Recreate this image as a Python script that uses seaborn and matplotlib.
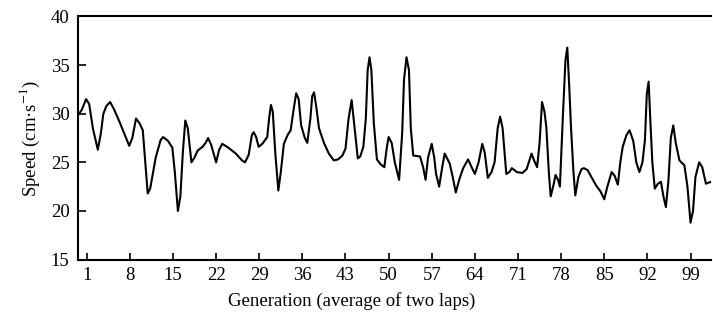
import matplotlib
matplotlib.use("Agg")
import matplotlib.pyplot as plt
import seaborn as sns
import pandas as pd

generation = [-0.46, 0.2, 0.9, 1.4, 2.0, 2.8, 3.3, 3.7, 4.2, 4.8, 5.4, 6.3, 7.2, 7.9,
              8.4, 9.0, 9.6, 10.1, 10.5, 10.9, 11.3, 12.2, 13.0, 13.4, 14.2, 14.9,
              15.3, 15.8, 16.2, 16.6, 17.0, 17.4, 18.0, 18.5, 19.0, 19.8, 20.3, 20.7,
              21.2, 22.0, 22.5, 23.0, 24.0, 25.2, 26.2, 26.7, 27.3, 27.8, 28.1, 28.5,
              28.9, 29.5, 30.3, 30.6, 30.9, 31.2, 31.6, 32.1, 32.5, 33.0, 33.6, 34.1,
              34.6, 35.0, 35.4, 35.8, 36.4, 36.8, 37.3, 37.6, 37.9, 38.3, 38.7, 39.5,
              40.3, 41.1, 41.8, 42.5, 43.0, 43.5, 44.0, 44.4, 45.0, 45.4, 45.9, 46.3,
              46.6, 46.9, 47.2, 47.6, 48.1, 48.7, 49.3, 49.7, 50.0, 50.5, 51.0, 51.7,
              52.2, 52.5, 52.9, 53.3, 53.6, 54.0, 55.1, 55.6, 56.0, 56.4, 57.0, 57.4,
              57.7, 58.2, 58.7, 59.1, 59.9, 60.4, 60.9, 61.5, 62.1, 62.9, 63.4, 64.0,
              64.6, 65.2, 65.6, 66.1, 66.7, 67.2, 67.7, 68.1, 68.5, 69.1, 69.6, 70.0,
              70.8, 71.7, 72.4, 73.2, 73.6, 74.1, 74.5, 74.9, 75.3, 75.6, 76.0, 76.3,
              76.7, 77.1, 77.5, 77.8, 78.3, 78.7, 79.0, 79.3, 79.6, 80.0, 80.3, 80.8,
              81.3, 81.7, 82.3, 82.9, 83.7, 84.4, 85.0, 85.5, 86.2, 86.7, 87.2, 87.6,
              88.0, 88.6, 89.1, 89.7, 90.2, 90.7, 91.2, 91.6, 91.9, 92.2, 92.5, 92.8,
              93.2, 93.7, 94.2, 94.6, 95.0, 95.4, 95.8, 96.2, 96.6, 97.2, 98.0, 98.5,
              99.0, 99.4, 99.8, 100.4, 100.9, 101.5, 102.3]
speed = [29.8, 30.4, 31.5, 31.0, 28.5, 26.3, 28.0, 30.0, 30.8, 31.2, 30.5, 29.2, 27.8, 26.7,
         27.5, 29.5, 29.0, 28.3, 25.0, 21.8, 22.3, 25.5, 27.3, 27.6, 27.2, 26.5,
         24.0, 20.0, 21.5, 26.0, 29.3, 28.5, 25.0, 25.5, 26.2, 26.6, 27.0, 27.5,
         26.8, 25.0, 26.3, 26.9, 26.5, 25.9, 25.2, 25.0, 25.8, 27.8, 28.1, 27.6,
         26.6, 26.9, 27.6, 29.5, 30.9, 30.2, 26.0, 22.1, 24.0, 26.9, 27.8, 28.3,
         30.5, 32.1, 31.5, 28.8, 27.5, 27.0, 29.5, 31.8, 32.2, 30.5, 28.5, 27.0,
         25.9, 25.2, 25.3, 25.7, 26.4, 29.5, 31.4, 29.0, 25.4, 25.6, 26.6, 29.5,
         34.5, 35.8, 34.5, 29.0, 25.3, 24.8, 24.5, 26.5, 27.6, 27.0, 25.0, 23.2,
         28.0, 33.5, 35.8, 34.5, 28.5, 25.7, 25.6, 24.5, 23.2, 25.5, 26.9, 25.5,
         23.8, 22.5, 24.5, 25.9, 24.9, 23.5, 21.9, 23.3, 24.4, 25.3, 24.6, 23.8,
         25.0, 26.9, 26.0, 23.4, 24.0, 25.0, 28.5, 29.7, 28.5, 23.8, 24.0, 24.4,
         24.0, 23.9, 24.3, 25.9, 25.2, 24.5, 27.0, 31.2, 30.2, 28.6, 24.0, 21.5,
         22.5, 23.7, 23.2, 22.5, 30.0, 35.5, 36.8, 33.0, 28.6, 24.0, 21.6, 23.5,
         24.3, 24.4, 24.2, 23.5, 22.6, 22.0, 21.2, 22.5, 24.0, 23.6, 22.7, 25.0,
         26.6, 27.8, 28.3, 27.2, 25.0, 24.0, 25.0, 27.3, 32.0, 33.3, 29.0, 25.0,
         22.3, 22.8, 23.0, 21.5, 20.4, 23.0, 27.5, 28.8, 27.0, 25.2, 24.7, 22.5,
         18.8, 20.0, 23.5, 25.0, 24.5, 22.8, 23.0]

x_ticks = [1, 8, 15, 22, 29, 36, 43, 50, 57, 64, 71, 78, 85, 92, 99]
y_ticks = [15, 20, 25, 30, 35, 40]

sns.set_style("ticks")
plt.rcParams["font.family"] = ["Liberation Serif", "DejaVu Serif"]
plt.rcParams["mathtext.fontset"] = "stix"
plt.rcParams["text.color"] = "black"
plt.rcParams["axes.labelcolor"] = "black"

df = pd.DataFrame({"Generation": generation, "Speed": speed})

fig = plt.figure(figsize=(7.13, 3.29), dpi=100)
ax = fig.add_axes([0.109, 0.211, 0.888, 0.739])
sns.lineplot(data=df, x="Generation", y="Speed", color="black", linewidth=1.5,
             ax=ax, sort=False)

ax.set_xlim(-0.46, 102.3)
ax.set_ylim(15, 40)
ax.set_xticks(x_ticks)
ax.set_yticks(y_ticks)
ax.tick_params(axis="both", direction="in", labelsize=13.5, colors="black", width=1.2)
ax.tick_params(axis="y", length=6, pad=6)
ax.tick_params(axis="x", length=5, pad=5)
for s in ["left", "bottom", "top"]:
    ax.spines[s].set_linewidth(1.5)
    ax.spines[s].set_color("black")
ax.spines["right"].set_visible(False)

ax.set_xlabel("Generation (average of two laps)", fontsize=13.5, labelpad=2)
ax.xaxis.set_label_coords(0.433, -0.135)
ax.set_ylabel("Speed (cm·s$^{-1}$)", fontsize=13.5, labelpad=6)

fig.savefig("out.png", dpi=100)
